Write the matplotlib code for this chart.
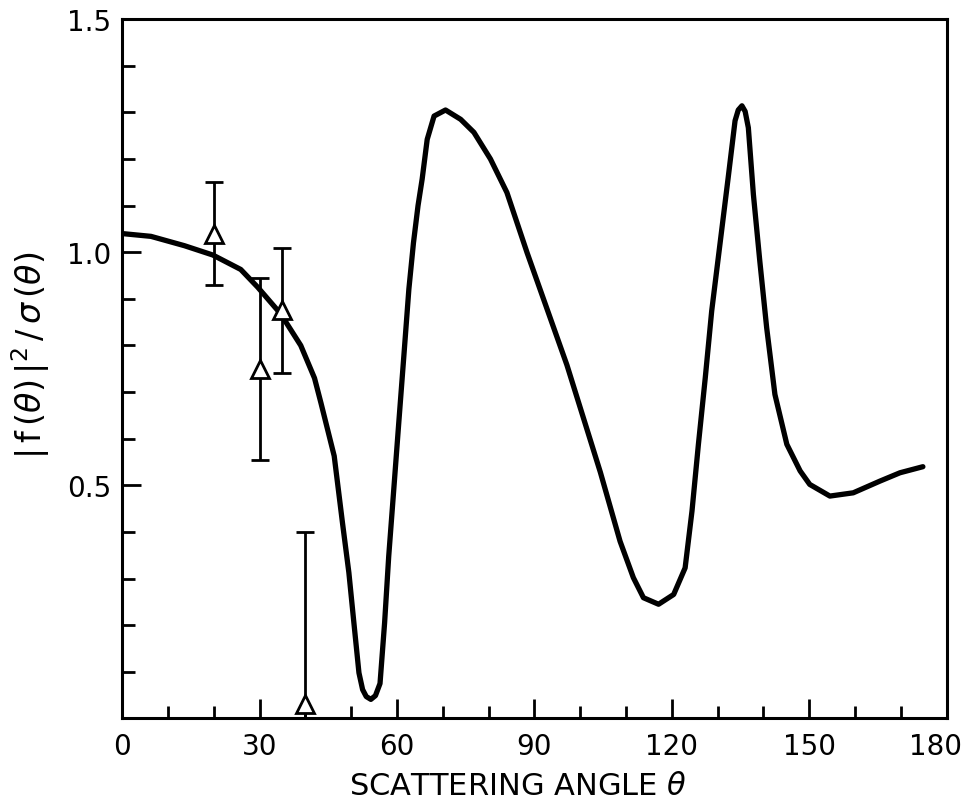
import matplotlib.pyplot as plt
from matplotlib.ticker import MultipleLocator
from matplotlib.transforms import ScaledTranslation

# curve: scattering angle (deg) vs |f|^2/sigma
angle = [0, 6.3, 13.6, 19.8, 25.9, 29.6, 34.6, 39.0, 42.0, 43.4, 46.3, 48.1,
         49.5, 50.6, 51.7, 52.5, 53.3, 54.3, 55.3, 56.3, 57.3, 58.2, 59.3,
         60.4, 61.5, 62.6, 63.6, 64.6, 65.5, 66.6, 68.1, 70.6, 73.9, 76.8,
         80.4, 84.0, 88.4, 97.1, 104.4, 108.7, 111.6, 113.8, 117.1, 120.4,
         122.9, 124.4, 125.8, 127.3, 128.7, 130.5, 132.3, 133.8, 134.5,
         135.3, 136.0, 136.7, 137.8, 139.2, 140.7, 142.5, 145.1, 148.0,
         150.1, 154.5, 159.6, 165.4, 169.8, 174.8]
ratio = [1.04, 1.034, 1.014, 0.994, 0.963, 0.925, 0.868, 0.80, 0.73, 0.677,
         0.563, 0.42, 0.313, 0.205, 0.098, 0.062, 0.047, 0.041, 0.049, 0.075,
         0.205, 0.348, 0.491, 0.635, 0.777, 0.921, 1.02, 1.10, 1.157, 1.242,
         1.292, 1.305, 1.285, 1.257, 1.20, 1.128, 0.999, 0.758, 0.528, 0.38,
         0.302, 0.259, 0.245, 0.266, 0.323, 0.445, 0.588, 0.731, 0.874, 1.017,
         1.16, 1.282, 1.305, 1.314, 1.302, 1.267, 1.124, 0.981, 0.838, 0.695,
         0.588, 0.531, 0.502, 0.477, 0.484, 0.509, 0.527, 0.54]

# measured points with error bars
pt_angle = [20, 30, 35, 40]
pt_value = [1.04, 0.75, 0.875, 0.03]
err_low = [0.11, 0.195, 0.135, 0.03]
err_high = [0.11, 0.195, 0.135, 0.37]

fig, ax = plt.subplots(figsize=(9.69, 8.03), dpi=100)
fig.subplots_adjust(left=0.126, right=0.977, bottom=0.104, top=0.975)

ax.plot(angle, ratio, color="black", lw=3.8, solid_capstyle="round",
        solid_joinstyle="round", zorder=2)
ax.errorbar(pt_angle, pt_value, yerr=[err_low, err_high], fmt="none",
            ecolor="black", elinewidth=2.0, capsize=6.5, capthick=2.0, zorder=3)
ax.plot(pt_angle, pt_value, linestyle="none", marker="^", markersize=13,
        markerfacecolor="white", markeredgecolor="black", markeredgewidth=2.0,
        zorder=4)

ax.set_xlim(0, 180)
ax.set_ylim(0, 1.5)
ax.set_xticks([0, 30, 60, 90, 120, 150, 180])
ax.xaxis.set_minor_locator(MultipleLocator(10))
ax.set_yticks([0.5, 1.0, 1.5])
ax.set_yticklabels(["0.5", "1.0", "1.5"])
ax.yaxis.set_minor_locator(MultipleLocator(0.1))
ax.tick_params(which="both", direction="in", top=False, right=False,
               width=2.0, labelsize=20)
ax.tick_params(axis="x", which="major", length=14, pad=10)
ax.tick_params(axis="y", which="major", length=14, pad=8)
ax.tick_params(which="minor", length=9)
for spine in ax.spines.values():
    spine.set_linewidth(2.2)

# the "180" sits a little left of its tick in the original
last = ax.xaxis.get_major_ticks()[-1].label1
last.set_transform(last.get_transform()
                   + ScaledTranslation(-8 / 72, 0, fig.dpi_scale_trans))

ax.set_xlabel("SCATTERING ANGLE $\\theta$", fontsize=22)
ax.xaxis.set_label_coords(0.48, -0.075)
ax.set_ylabel("$|\\,\\mathrm{f}\\,(\\theta)\\,|^{2}\\,/\\,\\sigma\\,(\\theta)$",
              fontsize=24)
ax.yaxis.set_label_coords(-0.085, 0.52)

fig.savefig("out.png")
plt.close(fig)
